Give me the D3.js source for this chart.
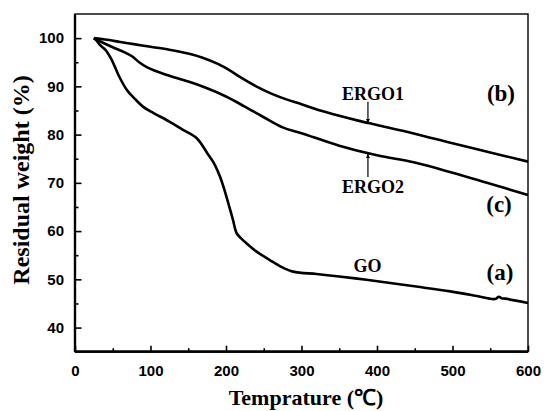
<!DOCTYPE html>
<html><head><meta charset="utf-8">
<script src="https://cdn.jsdelivr.net/npm/d3@7"></script>
<style>body{margin:0;background:#fff}svg{display:block}</style>
</head><body>
<script>
// Data (temperature °C, residual weight %)
const ergo1T = [25,40,60,80,100,125,150,170,190,205,220,240,260,280,300,325,350,375,400,450,500,550,600];
const ergo1W = [100,99.7,99.2,98.7,98.2,97.6,96.8,95.9,94.6,93.3,91.8,90.0,88.5,87.3,86.3,85.0,83.9,82.9,82.0,80.2,78.2,76.3,74.4];
const ergo2T = [25,35,50,65,75,85,95,105,125,150,175,200,225,250,275,300,350,400,450,500,550,600];
const ergo2W = [100,99.2,98.1,97.1,96.3,95.0,94.0,93.3,92.2,91.0,89.6,87.9,85.8,83.6,81.5,80.3,77.7,75.7,74.2,72.1,69.8,67.5];
const goT = [25,28,33,40,48.6,58,68.5,80,90,100,125,143,161,175,185,192,198,203,209,214,220,227,240,258,272,289,320,350,386,420,452,497,530,554,558,561,565,570,600];
const goW = [100,99.6,98.6,97.6,95.5,92.2,89.3,87.3,85.8,84.8,82.7,81.0,79.3,76.2,73.8,71.3,68.5,65.8,62.5,59.6,58.5,57.5,55.8,54.0,52.7,51.6,51.1,50.6,49.9,49.2,48.5,47.5,46.6,45.9,46.0,46.4,46.1,46.0,45.1];
const xTicks = [0,100,200,300,400,500,600];
const yTicks = [40,50,60,70,80,90,100];
const xLabel = "Temprature (\u2103)";
const yLabel = "Residual weight (%)";
const labelText = ["ERGO1","ERGO2","GO","(b)","(c)","(a)"];
const labelX = [394.7,394.7,387.4,564.2,561.6,562.9];
const labelY = [87.2,67.8,51.6,86.9,64.0,49.8];
const arrowX = [388,388];
const arrowFrom = [86.8,71.2];
const arrowTo = [82.4,76.0];

const W=544,H=411;
const svg=d3.select("body").append("svg").attr("width",W).attr("height",H);
const x=d3.scaleLinear([0,600],[75,528]);
const y=d3.scaleLinear([35,105],[351.7,14]);

// frame top/right
svg.append("rect").attr("x",75).attr("y",14).attr("width",453).attr("height",337.7)
  .attr("fill","none").attr("stroke","#000").attr("stroke-width",1.4);

const sans="'Liberation Sans', Arial, sans-serif";
const serif="'Liberation Serif','Times New Roman', serif";

// x axis
const xa=svg.append("g").attr("transform","translate(0,351.7)")
  .call(d3.axisBottom(x).tickValues(xTicks).tickSize(-6).tickPadding(14).tickFormat(d3.format("d")));
xa.append("g").call(d3.axisBottom(x).tickValues(d3.range(50,600,100)).tickSize(-3.5).tickFormat(""));
// y axis
const ya=svg.append("g").attr("transform","translate(75,0)")
  .call(d3.axisLeft(y).tickValues(yTicks).tickSize(-6.5).tickPadding(11).tickFormat(d3.format("d")));
ya.append("g").call(d3.axisLeft(y).tickValues(d3.range(45,100,10)).tickSize(-3.5).tickFormat(""));
[xa,ya].forEach(a=>{
  a.selectAll(".domain").attr("stroke","#000").attr("stroke-width",2.2);
  a.selectAll("line").attr("stroke","#000").attr("stroke-width",1.6);
  a.selectAll("text").attr("font-family",sans).attr("font-weight","bold").attr("font-size","15px").attr("fill","#000");
});
ya.selectAll(".domain").attr("d","M0,14V351.7");
xa.selectAll(".domain").attr("d","M75,0H528");

// curves
const line=d3.line().x(d=>x(d[0])).y(d=>y(d[1])).curve(d3.curveCatmullRom.alpha(0.5));
[[ergo1T,ergo1W],[ergo2T,ergo2W],[goT,goW]].forEach(([t,w])=>{
  svg.append("path").datum(t.map((v,i)=>[v,w[i]])).attr("d",line)
    .attr("fill","none").attr("stroke","#000").attr("stroke-width",2.6).attr("stroke-linejoin","round");
});

// labels
labelText.forEach((t,i)=>{
  const big=t.startsWith("(");
  svg.append("text").attr("x",x(labelX[i])).attr("y",y(labelY[i])).attr("text-anchor","middle")
    .attr("font-family",serif).attr("font-weight","bold").attr("font-size",big?"23px":"18px").text(t);
});
// arrows
svg.append("defs").append("marker").attr("id","ah").attr("viewBox","0 0 10 10").attr("refX",10).attr("refY",5)
  .attr("markerWidth",4).attr("markerHeight",7).attr("markerUnits","userSpaceOnUse").attr("orient","auto")
  .append("path").attr("d","M0,0L10,5L0,10z").attr("fill","#000");
arrowX.forEach((ax,i)=>{
  svg.append("line").attr("x1",x(ax)).attr("x2",x(ax)).attr("y1",y(arrowFrom[i])).attr("y2",y(arrowTo[i]))
    .attr("stroke","#000").attr("stroke-width",1.2).attr("marker-end","url(#ah)");
});

// axis titles
svg.append("text").attr("x",306).attr("y",405).attr("text-anchor","middle")
  .attr("font-family",serif).attr("font-weight","bold").attr("font-size","22px").text(xLabel);
svg.append("text").attr("transform","translate(29,180) rotate(-90)").attr("text-anchor","middle")
  .attr("font-family",serif).attr("font-weight","bold").attr("font-size","24px").text(yLabel);
</script>
</body></html>
